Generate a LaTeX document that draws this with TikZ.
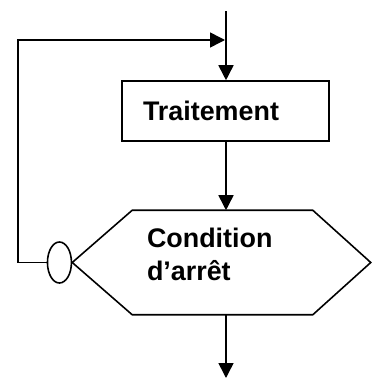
\documentclass[tikz,border=0pt]{standalone}
\usepackage{fontspec}
\setmainfont{Liberation Sans}
\usetikzlibrary{arrows.meta,shapes.geometric,calc}

\begin{document}
\begin{tikzpicture}[x=0.02cm,y=-0.02cm,line width=0.9pt,
  >={Triangle[length=0.3cm,width=0.3cm]},
  every node/.style={font=\bfseries\fontsize{15.3}{18.8}\selectfont},
  box/.style={draw,rectangle,minimum width=4.14cm,minimum height=1.2cm,inner xsep=0.42cm,text width=3.3cm,align=left},
  hexa/.style={rectangle,minimum width=5.94cm,minimum height=2.06cm},
  hexatext/.style={inner sep=0pt,text width=2.98cm,align=left,yshift=0.16cm},
  ring/.style={draw,ellipse,inner sep=0pt,minimum width=0.48cm,minimum height=0.82cm}]
\useasboundingbox (0,0) rectangle (377,379);
\node [box] (trait) at (225.5,111) {Traitement};
\node [hexa,label={[hexatext]center:Condition\\d’arrêt}] (cond) at (221.5,262.5) {};
\draw (cond.west) -- ($(cond.north west)+(60,0)$) -- ($(cond.north east)+(-58,0)$)
  -- (cond.east) -- ($(cond.south east)+(-58,0)$) -- ($(cond.south west)+(60,0)$) -- cycle;
\node [ring,anchor=east] (ring) at (cond.west) {};
\coordinate (entry) at (226,11);
\coordinate (join) at (225,40);
\coordinate (corner) at (18,40);
\coordinate (exit) at (226,378);
\draw [->] (entry) -- (trait.north -| entry);
\draw [->] (ring.west) -| (corner) -- (join);
\draw [->] (trait.south -| entry) -- (cond.north -| entry);
\draw [->] (cond.south -| exit) -- (exit);
\end{tikzpicture}
\end{document}
